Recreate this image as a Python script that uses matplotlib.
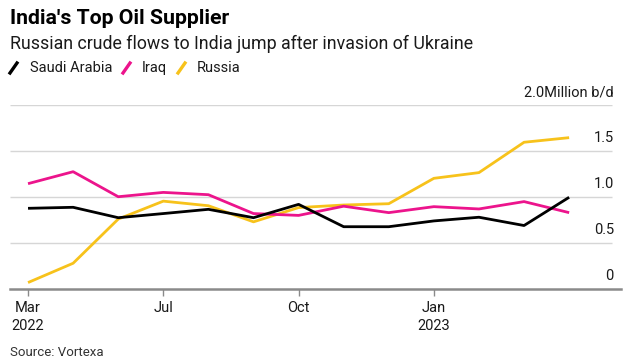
import matplotlib
matplotlib.use("Agg")
import matplotlib.pyplot as plt
from matplotlib.lines import Line2D

plt.rcParams['font.family'] = ['Roboto', 'DejaVu Sans']

months = list(range(13))  # monthly points starting Mar 2022
tick_pos = [0, 3, 6, 9]
tick_labels = ["Mar\n2022", "Jul", "Oct", "Jan\n2023"]
saudi = [0.877, 0.888, 0.775, 0.82, 0.866, 0.775, 0.92, 0.677, 0.677, 0.74, 0.78, 0.69, 0.997]
iraq = [1.145, 1.275, 1.003, 1.05, 1.025, 0.82, 0.80, 0.90, 0.83, 0.895, 0.87, 0.95, 0.83]
russia = [0.07, 0.28, 0.76, 0.955, 0.905, 0.73, 0.885, 0.913, 0.927, 1.203, 1.265, 1.595, 1.645]
y_ticks = [0, 0.5, 1.0, 1.5, 2.0]
y_labels = ["0", "0.5", "1.0", "1.5", "2.0Million b/d"]

C_SAUDI = "#000000"
C_IRAQ = "#ec148c"
C_RUSSIA = "#f7c21b"

W, H = 635, 362
fig = plt.figure(figsize=(W / 100, H / 100), dpi=100)

def fx(px):
    return px / W

def fy(py):
    return 1 - py / H

ax = fig.add_axes([fx(10), fy(289), fx(621) - fx(10), fy(105) - fy(289)])
ax.set_xlim(-0.4, 13.15)
ax.set_ylim(0, 2.0)
for s in ["top", "right", "left"]:
    ax.spines[s].set_visible(False)
ax.spines["bottom"].set_color("#8a8a8a")
ax.spines["bottom"].set_linewidth(1.8)
ax.spines["bottom"].set_zorder(5)

for v in y_ticks[1:]:
    ax.hlines(v, -0.4, 12.95, color="#d6d6d6", lw=1.0, zorder=1)

for v, lab in zip(y_ticks, y_labels):
    ax.annotate(lab, xy=(12.99, v), xytext=(0, 4), textcoords="offset points",
                ha="right", va="bottom", fontsize=10.5, color="#1a1a1a",
                annotation_clip=False)

lw = 2.0
ax.plot(months, russia, color=C_RUSSIA, lw=lw, zorder=3, solid_capstyle="butt")
ax.plot(months, iraq, color=C_IRAQ, lw=lw, zorder=3, solid_capstyle="butt")
ax.plot(months, saudi, color=C_SAUDI, lw=lw, zorder=4, solid_capstyle="butt")

ax.set_yticks([])
ax.set_xticks(tick_pos)
ax.set_xticklabels(tick_labels, fontsize=10.5, color="#1a1a1a", linespacing=1.35)
ax.tick_params(axis="x", length=5, width=1.0, color="#8a8a8a", pad=4)

fig.text(fx(10), fy(18), "India's Top Oil Supplier", fontsize=15.3, fontweight="bold",
         ha="left", va="center", color="#000000")
fig.text(fx(10), fy(44), "Russian crude flows to India jump after invasion of Ukraine",
         fontsize=12.8, ha="left", va="center", color="#1a1a1a")

legend_items = [("Saudi Arabia", C_SAUDI, 10, 30), ("Iraq", C_IRAQ, 123, 142),
                ("Russia", C_RUSSIA, 178, 197)]
for lab, col, mx, tx in legend_items:
    fig.add_artist(Line2D([fx(mx), fx(mx + 7)], [fy(73), fy(63)], color=col, lw=2.4,
                          transform=fig.transFigure))
    fig.text(fx(tx), fy(68), lab, fontsize=10.5, ha="left", va="center", color="#1a1a1a")

fig.text(fx(10), fy(353), "Source: Vortexa", fontsize=9.5, ha="left", va="center",
         color="#333333")

fig.savefig("out.png", dpi=100)
